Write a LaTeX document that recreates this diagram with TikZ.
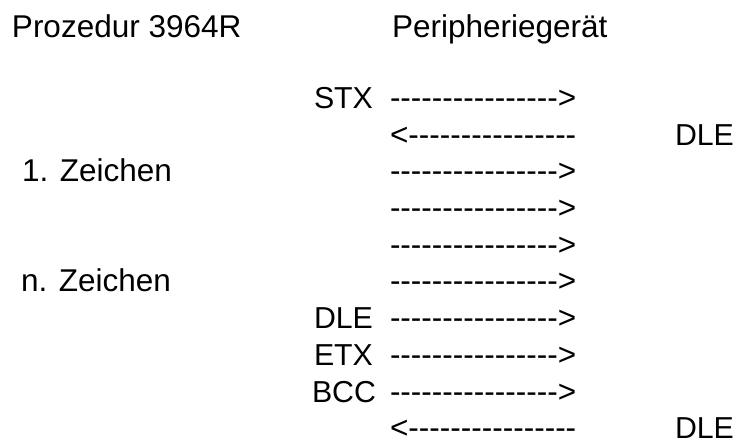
\documentclass[tikz,border=0pt]{standalone}
\usepackage{fontspec}
\setmainfont{Liberation Sans}[Ligatures=TeXOff]
\begin{document}
\begin{tikzpicture}[x=1pt,y=1pt,
  lbl/.style={anchor=base west,inner sep=0pt,outer sep=0pt,text depth=0pt,font=\fontsize{31.5}{36}\selectfont},
  code/.style={lbl,font=\fontsize{30.3}{34}\selectfont}]
\useasboundingbox (0,0) rectangle (736,-443);
\def\dsh{----------------}
\def\rowA{-108.5}\def\rowB{-145.2}\def\rowC{-181.9}\def\rowD{-218.6}\def\rowE{-255.3}
\def\rowF{-292}\def\rowG{-328.7}\def\rowH{-365.4}\def\rowI{-402.1}\def\rowJ{-438.8}
% headers
\node[lbl] (h1) at (12,-38) {Prozedur 3964R};
\node[lbl] (h2) at (392,-38) {Peripheriegerät};
% left labels
\node[lbl] (z1) at (22,\rowC) {1. Zeichen};
\node[lbl] (zn) at (21,\rowF) {n. Zeichen};
\node[code] (stx) at (314,\rowA) {STX};
\node[code] (dle1) at (314,\rowG) {DLE};
\node[code] (etx) at (314,\rowH) {ETX};
\node[code] (bcc) at (312,\rowI) {BCC};
% arrows as text
\node[lbl] (a1) at (390,\rowA) {\dsh>};
\node[lbl] (a2) at (390,\rowB) {<\dsh};
\node[lbl] (a3) at (390,\rowC) {\dsh>};
\node[lbl] (a4) at (390,\rowD) {\dsh>};
\node[lbl] (a5) at (390,\rowE) {\dsh>};
\node[lbl] (a6) at (390,\rowF) {\dsh>};
\node[lbl] (a7) at (390,\rowG) {\dsh>};
\node[lbl] (a8) at (390,\rowH) {\dsh>};
\node[lbl] (a9) at (390,\rowI) {\dsh>};
\node[lbl] (a10) at (390,\rowJ) {<\dsh};
% right labels
\node[code] (r1) at (675,\rowB) {DLE};
\node[code] (r2) at (675,\rowJ) {DLE};
\end{tikzpicture}
\end{document}
